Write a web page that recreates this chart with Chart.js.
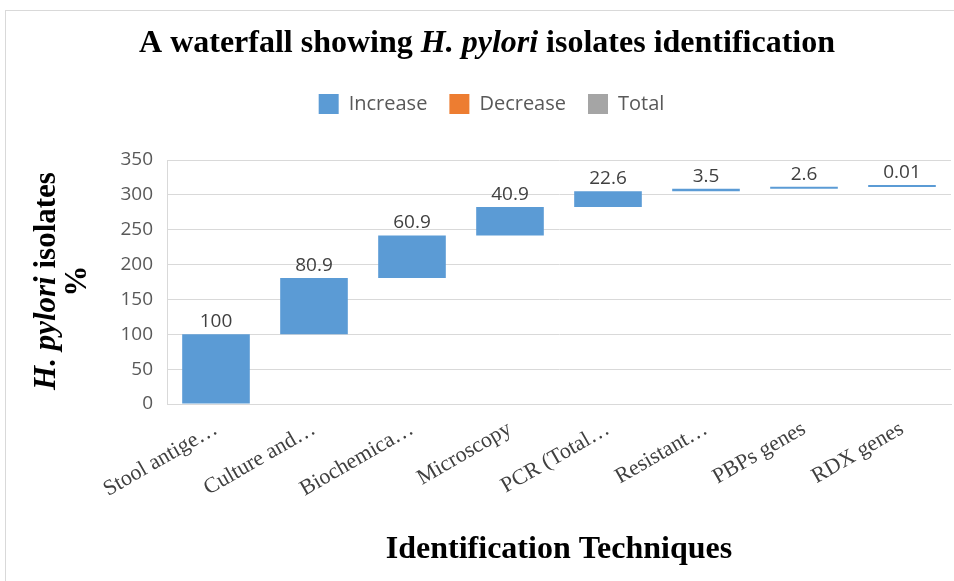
<!DOCTYPE html>
<html>
<head>
<meta charset="utf-8">
<script src="https://cdn.jsdelivr.net/npm/chart.js@4.4.0/dist/chart.umd.min.js"></script>
<style>
  html, body { margin: 0; padding: 0; background: #fff; }
  #wrap { width: 954px; height: 581px; position: relative; }
</style>
</head>
<body>
<div id="wrap"><canvas id="waterfallChart"></canvas></div>
<script>
// categories and values
const categories = ['Stool antige\u2026', 'Culture and\u2026', 'Biochemica\u2026', 'Microscopy',
                    'PCR (Total\u2026', 'Resistant\u2026', 'PBPs genes', 'RDX genes'];
const increaseValues = [100, 80.9, 60.9, 40.9, 22.6, 3.5, 2.6, 0.01];
const yTicks = [0, 50, 100, 150, 200, 250, 300, 350];
const legendNames = ['Increase', 'Decrease', 'Total'];

const BLUE = '#5B9BD5';
const ORANGE = '#ED7D31';
const GRAY = '#A5A5A5';
const SERIF = '"Liberation Serif", "Times New Roman", serif';
const SANS = '"Open Sans", "Noto Sans", sans-serif';

// waterfall: each step floats on top of the running total
let running = 0;
const floating = increaseValues.map(v => {
    const seg = [running, running + v];
    running += v;
    return seg;
});

// white background + thin frame like the Excel chart border
const frame = {
    id: 'frame',
    beforeDraw(chart) {
        const c = chart.ctx;
        c.save();
        c.fillStyle = '#fff';
        c.fillRect(0, 0, chart.width, chart.height);
        c.strokeStyle = '#d9d9d9';
        c.lineWidth = 1;
        c.strokeRect(5.5, 10.5, chart.width, chart.height);
        c.restore();
    }
};

// draw a line of text made of runs with their own fonts, centred on x
function drawRuns(c, runs, x, y) {
    let total = 0;
    runs.forEach(r => { c.font = r.font; total += c.measureText(r.text).width; });
    let cx = x - total / 2;
    runs.forEach(r => {
        c.font = r.font;
        c.fillText(r.text, cx, y);
        cx += c.measureText(r.text).width;
    });
}

const titles = {
    id: 'titles',
    afterDraw(chart) {
        const c = chart.ctx;
        c.save();
        c.fillStyle = '#000';
        c.textBaseline = 'middle';
        c.textAlign = 'left';
        drawRuns(c, [
            { text: 'A waterfall showing ', font: 'bold 32px ' + SERIF },
            { text: 'H. pylori', font: 'italic bold 32px ' + SERIF },
            { text: ' isolates identification', font: 'bold 32px ' + SERIF }
        ], 487, 44);

        // y axis title, two lines, rotated
        c.translate(47, 281);
        c.rotate(-Math.PI / 2);
        drawRuns(c, [
            { text: 'H. pylori', font: 'italic bold 31px ' + SERIF },
            { text: ' isolates', font: 'bold 31px ' + SERIF }
        ], 0, 0);
        drawRuns(c, [{ text: '%', font: 'bold 31px ' + SERIF }], 0, 31);
        c.restore();
    }
};

const valueLabels = {
    id: 'valueLabels',
    afterDatasetsDraw(chart) {
        const c = chart.ctx;
        const meta = chart.getDatasetMeta(0);
        c.save();
        c.font = '19px ' + SANS;
        c.fillStyle = '#404040';
        c.textAlign = 'center';
        c.textBaseline = 'bottom';
        meta.data.forEach((bar, i) => {
            const top = Math.min(bar.y, bar.base);
            c.fillText(String(increaseValues[i]), bar.x, top - 3);
        });
        c.restore();
    }
};

const legendGap = {
    id: 'legendGap',
    beforeInit(chart) {
        const origFit = chart.legend.fit;
        chart.legend.fit = function () {
            origFit.bind(chart.legend)();
            this.height = 88;
        };
    }
};

const ctx = document.getElementById('waterfallChart').getContext('2d');
const waterfallChart = new Chart(ctx, {
    type: 'bar',
    data: {
        labels: categories,
        datasets: [
            {
                label: legendNames[0],
                data: floating,
                backgroundColor: BLUE,
                borderWidth: 0,
                grouped: false,
                minBarLength: 2,
                categoryPercentage: 1,
                barPercentage: 0.69
            },
            { label: legendNames[1], data: [], backgroundColor: ORANGE, grouped: false },
            { label: legendNames[2], data: [], backgroundColor: GRAY, grouped: false }
        ]
    },
    options: {
        responsive: true,
        maintainAspectRatio: false,
        animation: false,
        layout: { padding: { top: 72, left: 32, right: 3, bottom: 0 } },
        plugins: {
            title: { display: false },
            tooltip: { enabled: false },
            legend: {
                position: 'top',
                labels: {
                    boxWidth: 20,
                    boxHeight: 20,
                    padding: 22,
                    color: '#595959',
                    font: { family: SANS, size: 20 }
                }
            }
        },
        scales: {
            x: {
                grid: { display: false, drawTicks: false },
                border: { display: true, color: '#d9d9d9' },
                ticks: {
                    color: '#404040',
                    font: { family: SERIF, size: 22 },
                    maxRotation: 30,
                    minRotation: 30,
                    padding: 12,
                    autoSkip: false
                },
                title: {
                    display: true,
                    text: 'Identification Techniques',
                    color: '#000',
                    font: { family: SERIF, size: 32, weight: 'bold' },
                    padding: { top: 4, bottom: 12 }
                },
                afterFit(scale) { scale.height = 177; }
            },
            y: {
                min: yTicks[0],
                max: yTicks[yTicks.length - 1],
                afterBuildTicks(scale) { scale.ticks = yTicks.map(v => ({ value: v })); },
                grid: { color: '#d9d9d9', drawTicks: false },
                border: { display: true, color: '#d9d9d9' },
                ticks: {
                    color: '#595959',
                    font: { family: SANS, size: 19 },
                    padding: 14
                },
                afterFit(scale) { scale.width = 135; }
            }
        }
    },
    plugins: [frame, legendGap, titles, valueLabels]
});
</script>
</body>
</html>
